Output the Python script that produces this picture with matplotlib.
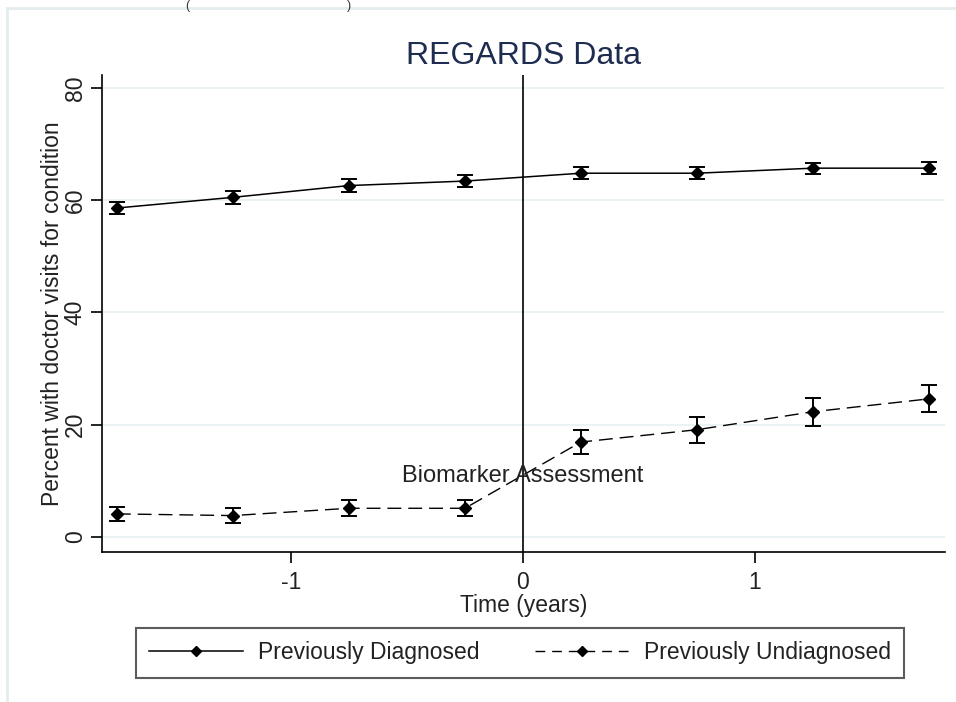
import matplotlib
matplotlib.use("Agg")
import matplotlib.pyplot as plt
from matplotlib.lines import Line2D
from matplotlib.patches import Rectangle

plt.rcParams['font.family'] = ['Liberation Sans', 'DejaVu Sans']

# data
time = [-1.75, -1.25, -0.75, -0.25, 0.25, 0.75, 1.25, 1.75]
diag = [58.6, 60.5, 62.6, 63.4, 64.8, 64.8, 65.7, 65.7]
diag_err = [1.1, 1.1, 1.1, 1.1, 1.1, 1.1, 1.0, 1.1]
undiag = [4.1, 3.8, 5.1, 5.1, 16.9, 19.1, 22.3, 24.6]
undiag_err = [1.3, 1.3, 1.4, 1.4, 2.2, 2.3, 2.5, 2.4]
yticks = [0, 20, 40, 60, 80]
xticks = [-1, 0, 1]
xtick_labels = ["-1", "0", "1"]

fs = 16.5

fig = plt.figure(figsize=(9.56, 7.02), dpi=100)
fig.patches.append(Rectangle((7 / 956, -0.1), 1.1, 1 - 8 / 702 + 0.1,
                             transform=fig.transFigure, fill=False,
                             edgecolor='#e4ecee', lw=2))
ax = fig.add_axes([102 / 956, 1 - 552 / 702, 843 / 956, 477 / 702])

# light horizontal grid
for yt in yticks:
    ax.axhline(yt, color='#e8f0f2', lw=1.2, zorder=0)

ax.axvline(0, color='black', lw=1.2, zorder=1)

ax.errorbar(time, diag, yerr=diag_err, fmt='-D', color='black', ms=6.5,
            lw=1.1, capsize=5.5, elinewidth=1.4, capthick=1.4)
ax.errorbar(time, undiag, yerr=undiag_err, fmt='D', color='black', ms=6.5,
            capsize=5.5, elinewidth=1.4, capthick=1.4)
ax.plot(time, undiag, color='black', lw=1.0, ls=(0, (10, 5)))

ax.text(0, 10.9, "Biomarker Assessment", ha='center', va='center',
        fontsize=17, color='#222222')

ax.set_xlim(-1.814, 1.819)
ax.set_ylim(-2.69, 82.3)
ax.set_yticks(yticks)
ax.set_yticklabels([str(v) for v in yticks], rotation=90, va='center')
ax.set_xticks(xticks)
ax.set_xticklabels(xtick_labels)
ax.tick_params(axis='both', length=8, width=1.2, labelsize=fs,
               colors='black', labelcolor='#222222', pad=6)
ax.tick_params(axis='y', pad=3)
for s in ['top', 'right']:
    ax.spines[s].set_visible(False)
for s in ['left', 'bottom']:
    ax.spines[s].set_linewidth(1.2)

ax.set_xlabel("Time (years)", fontsize=fs, color='#222222', labelpad=0)
ax.set_ylabel("Percent with doctor visits for condition", fontsize=fs,
              color='#222222', labelpad=0)
ax.set_title("REGARDS Data", fontsize=23, color='#1e2c50', pad=8)

fig.text(185 / 956, 1.0, "(", fontsize=9, va='top', color='#333333')
fig.text(347 / 956, 1.0, ")", fontsize=9, va='top', color='#333333')

handles = [
    Line2D([], [], color='black', lw=1.1, marker='D', ms=5),
    Line2D([], [], color='black', lw=1.0, ls=(0, (7, 5)), marker='D', ms=5),
]
leg = fig.legend(handles, ["Previously Diagnosed", "Previously Undiagnosed"],
                 loc='center', bbox_to_anchor=(520 / 956, 1 - 653 / 702),
                 ncol=2, fontsize=fs, frameon=True, fancybox=False,
                 handlelength=4.1, columnspacing=2.4, borderpad=0.6,
                 handletextpad=0.65)
leg.get_frame().set_edgecolor('#333333')
leg.get_frame().set_linewidth(1.5)
for t in leg.get_texts():
    t.set_color('#222222')

fig.savefig("out.png", dpi=100)
